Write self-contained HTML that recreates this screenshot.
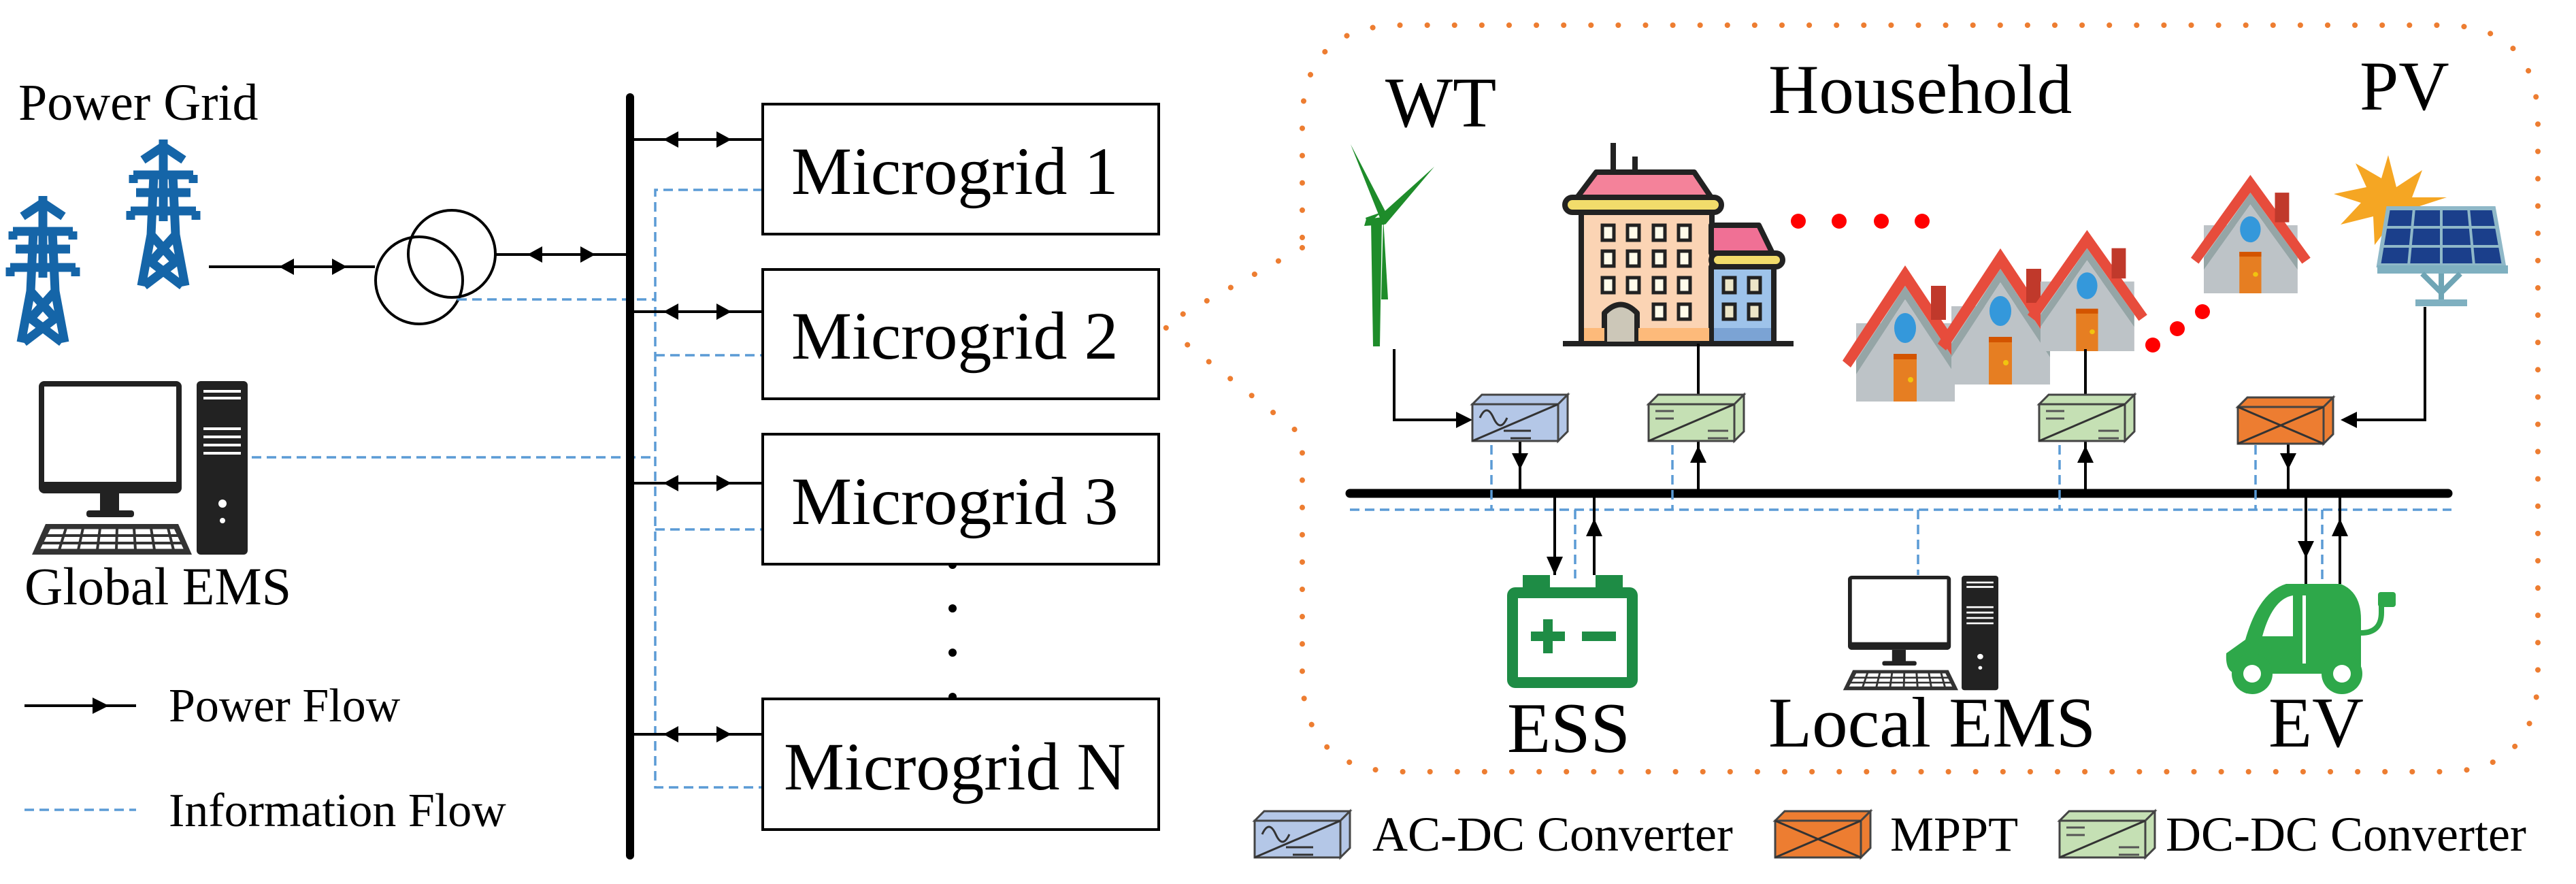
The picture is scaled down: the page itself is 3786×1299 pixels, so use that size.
<!DOCTYPE html>
<html><head><meta charset="utf-8"><style>
html,body{margin:0;padding:0;background:#fff}
svg{display:block}
svg text{font-family:"Liberation Serif","Times New Roman",Times,serif !important;fill:#000}
</style></head><body>
<svg width="3786" height="1299" viewBox="0 0 3786 1299" xmlns="http://www.w3.org/2000/svg" font-family="Liberation Serif, Times New Roman, serif">
<defs>
<g id="tower" fill="none" stroke="#1565A8" stroke-width="13" stroke-linejoin="miter">
  <path d="M-30,0 L0,-20 L30,0 M-44,22 L44,22 M-24,22 L24,22 M-40,48 L40,48 M-48,75 L48,75 M0,-30 L0,90 M-14,22 L-18,110 L-32,185 M14,22 L18,110 L32,185 M-18,110 L18,150 L-28,185 M18,110 L-18,150 L28,185 M-44,22 L-44,34 M44,22 L44,34 M-48,75 L-48,88 M48,75 L48,88"/>
</g>
<g id="pc">
  <rect x="0" y="0" width="210" height="165" rx="8" fill="#222"/>
  <rect x="8" y="8" width="194" height="140" fill="#fff"/>
  <rect x="90" y="165" width="28" height="28" fill="#222"/>
  <rect x="70" y="190" width="70" height="10" rx="4" fill="#222"/>
  <path d="M10,210 L205,210 L225,255 L-10,255 Z" fill="#333"/>
  <path d="M16,216 L200,216 L215,248 L0,248 Z" fill="#fff" stroke="#333" stroke-width="3"/>
  <path d="M40,216 L30,248 M65,216 L58,248 M90,216 L86,248 M115,216 L114,248 M140,216 L142,248 M165,216 L170,248 M190,216 L198,248 M8,227 L206,227 M4,238 L210,238" stroke="#333" stroke-width="4"/>
  <rect x="232" y="0" width="75" height="255" rx="6" fill="#222"/>
  <path d="M242,15 L297,15 M242,25 L297,25 M242,70 L297,70 M242,82 L297,82 M242,94 L297,94 M242,106 L297,106" stroke="#fff" stroke-width="4"/>
  <circle cx="270" cy="180" r="6" fill="#fff"/><circle cx="270" cy="205" r="4" fill="#fff"/>
</g>
<g id="conv">
  <path d="M0,14 L14,0 L140,0 L126,14 Z" stroke="#444" stroke-width="3"/>
  <path d="M126,14 L140,0 L140,54 L126,68 Z" stroke="#444" stroke-width="3"/>
  <rect x="0" y="14" width="126" height="54" stroke="#444" stroke-width="3"/>
  <path d="M0,68 L126,14" stroke="#333" stroke-width="3"/>
</g>
<g id="house">
  <rect x="20" y="85" width="145" height="115" fill="#BDC3C7"/>
  <path d="M92,0 L185,140 L172,150 L92,30 L12,150 L0,140 Z" fill="#E74C3C"/>
  <path d="M92,30 L165,140 L165,160 L92,50 L20,160 L20,140 Z" fill="#95A5A6"/>
  <path d="M92,50 L165,160 L165,200 L20,200 L20,160 Z" fill="#BDC3C7"/>
  <rect x="130" y="30" width="22" height="50" fill="#C0392B"/>
  <ellipse cx="92" cy="92" rx="16" ry="22" fill="#3498DB"/>
  <rect x="75" y="130" width="34" height="70" fill="#E67E22"/>
  <rect x="75" y="130" width="34" height="8" fill="#D35400"/>
  <circle cx="100" cy="168" r="4" fill="#F1C40F"/>
</g>
</defs>

<!-- LEFT SIDE -->
<text x="27" y="176" font-size="76" font-family="Liberation Serif, serif">Power Grid</text>
<use href="#tower" x="63" y="318"/>
<use href="#tower" x="240" y="235"/>

<line x1="307" y1="392" x2="551" y2="392" stroke="#000" stroke-width="4"/>
<polygon points="410,392 432,380 432,404" fill="#000"/>
<polygon points="510,392 488,380 488,404" fill="#000"/>
<circle cx="616" cy="412" r="64" fill="none" stroke="#000" stroke-width="4"/>
<circle cx="664" cy="373" r="64" fill="none" stroke="#000" stroke-width="4"/>
<line x1="728" y1="374" x2="926" y2="374" stroke="#000" stroke-width="4"/>
<polygon points="775,374 797,362 797,386" fill="#000"/>
<polygon points="875,374 853,362 853,386" fill="#000"/>

<g stroke="#5B9BD5" stroke-width="3.5" stroke-dasharray="14,8" fill="none">
  <path d="M1121,279 L963,279 L963,1157 L1121,1157"/>
  <path d="M963,522 L1121,522"/>
  <path d="M963,778 L1121,778"/>
  <path d="M672,440 L963,440"/>
  <path d="M370,672 L963,672"/>
  <path d="M36,1190 L200,1190"/>
</g>

<line x1="926" y1="143" x2="926" y2="1257" stroke="#000" stroke-width="12" stroke-linecap="round"/>

<g stroke="#000" stroke-width="4">
  <line x1="926" y1="205" x2="1121" y2="205"/>
  <line x1="926" y1="458" x2="1121" y2="458"/>
  <line x1="926" y1="710" x2="1121" y2="710"/>
  <line x1="926" y1="1079" x2="1121" y2="1079"/>
  <line x1="36" y1="1037" x2="200" y2="1037"/>
</g>
<g fill="#000">
  <polygon points="975,205 997,193 997,217"/><polygon points="1075,205 1053,193 1053,217"/>
  <polygon points="975,458 997,446 997,470"/><polygon points="1075,458 1053,446 1053,470"/>
  <polygon points="975,710 997,698 997,722"/><polygon points="1075,710 1053,698 1053,722"/>
  <polygon points="975,1079 997,1067 997,1091"/><polygon points="1075,1079 1053,1067 1053,1091"/>
  <polygon points="160,1037 136,1025 136,1049"/>
  <circle cx="1400" cy="830" r="6"/><circle cx="1400" cy="894" r="6"/><circle cx="1400" cy="959" r="6"/><circle cx="1400" cy="1024" r="6"/>
</g>

<g fill="#fff" stroke="#000" stroke-width="4">
  <rect x="1121" y="153" width="582" height="191"/>
  <rect x="1121" y="396" width="582" height="190"/>
  <rect x="1121" y="638" width="582" height="191"/>
  <rect x="1121" y="1027" width="582" height="192"/>
</g>
<g font-size="100" font-family="Liberation Serif, serif">
  <text x="1163" y="285">Microgrid 1</text>
  <text x="1163" y="527">Microgrid 2</text>
  <text x="1163" y="770">Microgrid 3</text>
  <text x="1152" y="1160">Microgrid N</text>
</g>

<use href="#pc" x="57" y="560"/>
<g font-family="Liberation Serif, serif">
<text x="36" y="888" font-size="78">Global EMS</text>
<text x="248" y="1060" font-size="70">Power Flow</text>
<text x="248" y="1214" font-size="70">Information Flow</text>
</g>

<path d="M1914,364 L1709,478 L1914,640 L1914,990 Q1914,1134 2060,1134 L3590,1134 Q3730,1134 3730,990 L3730,180 Q3730,37 3590,37 L2060,37 Q1914,37 1914,180 Z" fill="none" stroke="#ED7D31" stroke-width="8" stroke-linecap="round" stroke-dasharray="0.1,40"/>

<g font-family="Liberation Serif, serif">
<text x="2036" y="186" font-size="105">WT</text>
<text x="2599" y="166" font-size="103">Household</text>
<text x="3468" y="161" font-size="103">PV</text>
</g>

<g fill="#1E8C2A">
  <polygon points="2015,325 2031,325 2028,509 2018,509"/>
  <polygon points="1985,212 2040,318 2030,325"/>
  <polygon points="2008,322 2040,318 2035,330 2005,332"/>
  <polygon points="2030,312 2007,320 2010,330"/>
  <polygon points="2030,315 2108,245 2036,330"/>
  <polygon points="2033,320 2040,440 2030,440"/>
</g>

<g stroke="#222" stroke-width="8" stroke-linejoin="round">
  <line x1="2371" y1="210" x2="2371" y2="272"/>
  <line x1="2403" y1="230" x2="2403" y2="272"/>
  <path d="M2346,253 L2490,253 L2515,290 L2318,290 Z" fill="#F4829A"/>
  <rect x="2300" y="290" width="230" height="22" rx="11" fill="#F2DC6B"/>
  <rect x="2324" y="312" width="192" height="190" fill="#FBD4B4"/>
  <path d="M2515,331 L2585,331 L2605,372 L2515,372 Z" fill="#F07095"/>
  <rect x="2515" y="372" width="105" height="20" rx="10" fill="#F2DC6B"/>
  <rect x="2515" y="392" width="92" height="110" fill="#9EC3EA"/>
  <line x1="2297" y1="505" x2="2636" y2="505"/>
  <path d="M2358,502 L2358,460 Q2382,435 2406,460 L2406,502" fill="#CCC7B8"/>
</g>
<rect x="2328" y="482" width="30" height="19" fill="#FDBA7A"/>
<rect x="2408" y="482" width="104" height="19" fill="#FDBA7A"/>
<rect x="2519" y="482" width="84" height="19" fill="#7BA3D4"/>
<g fill="#FFFCEB" stroke="#222" stroke-width="5">
  <rect x="2355" y="331" width="17" height="22"/><rect x="2392" y="331" width="17" height="22"/><rect x="2430" y="331" width="17" height="22"/><rect x="2467" y="331" width="17" height="22"/>
  <rect x="2355" y="369" width="17" height="22"/><rect x="2392" y="369" width="17" height="22"/><rect x="2430" y="369" width="17" height="22"/><rect x="2467" y="369" width="17" height="22"/>
  <rect x="2355" y="408" width="17" height="22"/><rect x="2392" y="408" width="17" height="22"/><rect x="2430" y="408" width="17" height="22"/><rect x="2467" y="408" width="17" height="22"/>
  <rect x="2430" y="447" width="17" height="22"/><rect x="2467" y="447" width="17" height="22"/>
  <rect x="2533" y="408" width="17" height="22" fill="#EDE6C8"/><rect x="2570" y="408" width="17" height="22" fill="#EDE6C8"/>
  <rect x="2533" y="447" width="17" height="22" fill="#EDE6C8"/><rect x="2570" y="447" width="17" height="22" fill="#EDE6C8"/>
</g>
<g fill="#F00">
  <circle cx="2643" cy="325" r="11"/><circle cx="2703" cy="325" r="11"/><circle cx="2765" cy="325" r="11"/><circle cx="2825" cy="325" r="11"/>
  <circle cx="3164" cy="507" r="11"/><circle cx="3200" cy="483" r="11"/><circle cx="3237" cy="458" r="11"/>
</g>

<use href="#house" x="2708" y="390"/>
<g transform="translate(2848,365)"><use href="#house"/></g>
<g transform="translate(2980,338) scale(0.95,0.89)"><use href="#house"/></g>
<g transform="translate(3220,257) scale(0.95,0.87)"><use href="#house"/></g>

<g fill="#F5A623">
  <polygon points="3510,228 3522,275 3560,250 3545,290 3596,290 3550,305 3570,330 3520,320 3490,360 3488,318 3440,330 3470,298 3430,285 3478,275 3462,240 3500,262"/>
</g>
<g>
  <path d="M3510,306 L3665,306 L3680,390 L3496,390 Z" fill="#1B3F8B" stroke="#8FB8C8" stroke-width="6"/>
  <path d="M3548,306 L3540,390 M3588,306 L3588,390 M3628,306 L3636,390 M3503,334 L3672,334 M3500,362 L3676,362" stroke="#8FB8C8" stroke-width="4"/>
  <rect x="3494" y="390" width="192" height="12" fill="#7FB0C0"/>
  <path d="M3560,402 L3588,430 L3616,402 M3588,402 L3588,440" stroke="#6FA5B5" stroke-width="8" fill="none"/>
  <rect x="3550" y="440" width="76" height="10" fill="#7FB0C0"/>
</g>

<line x1="1984" y1="725" x2="3598" y2="725" stroke="#000" stroke-width="13" stroke-linecap="round"/>
<g stroke="#5B9BD5" stroke-width="3.5" stroke-dasharray="14,8" fill="none">
  <path d="M1984,749 L3603,749"/>
  <path d="M2192,654 L2192,749 M2458,654 L2458,749 M3027,654 L3027,749 M3315,654 L3315,749"/>
  <path d="M2315,749 L2315,850 M2819,749 L2819,845 M3413,749 L3413,858"/>
</g>

<g stroke="#000" stroke-width="4" fill="none">
  <path d="M2049,513 L2049,617 L2150,617"/>
  <path d="M2234,646 L2234,720"/>
  <path d="M2496,646 L2496,720"/>
  <path d="M2496,505 L2496,580"/>
  <path d="M3065,646 L3065,720"/>
  <path d="M3065,513 L3065,580"/>
  <path d="M3564,451 L3564,617 L3450,617"/>
  <path d="M3363,650 L3363,720"/>
  <path d="M2285,730 L2285,845 M2343,730 L2343,845"/>
  <path d="M3389,730 L3389,858 M3439,730 L3439,858"/>
</g>
<g fill="#000">
  <polygon points="2164,617 2140,605 2140,629"/>
  <polygon points="2234,690 2222,666 2246,666"/>
  <polygon points="2496,655 2484,680 2508,680"/>
  <polygon points="2496,583 2484,608 2508,608"/>
  <polygon points="3065,655 3053,680 3077,680"/>
  <polygon points="3065,583 3053,608 3077,608"/>
  <polygon points="3440,617 3464,605 3464,629"/>
  <polygon points="3363,690 3351,666 3375,666"/>
  <polygon points="2285,845 2273,818 2297,818"/>
  <polygon points="2343,762 2331,788 2355,788"/>
  <polygon points="3389,820 3377,795 3401,795"/>
  <polygon points="3439,762 3427,788 3451,788"/>
</g>

<use href="#conv" x="2164" y="580" fill="#B4C7E7"/>
<path d="M2175,614 q10,-22 20,0 t20,0 M2210,633 L2250,633 M2220,644 L2250,644" stroke="#333" stroke-width="3" fill="none"/>
<use href="#conv" x="2423" y="580" fill="#C5E0B4"/>
<path d="M2433,604 L2460,604 M2433,615 L2460,615 M2510,633 L2540,633 M2510,644 L2540,644" stroke="#555" stroke-width="3"/>
<use href="#conv" x="2997" y="580" fill="#C5E0B4"/>
<path d="M3007,604 L3034,604 M3007,615 L3034,615 M3084,633 L3114,633 M3084,644 L3114,644" stroke="#555" stroke-width="3"/>
<use href="#conv" x="3289" y="584" fill="#ED7D31"/>
<path d="M3289,598 L3415,652" stroke="#333" stroke-width="3"/>

<g fill="#1E8C45">
  <rect x="2238" y="845" width="40" height="20"/><rect x="2345" y="845" width="40" height="20"/>
  <rect x="2215" y="863" width="192" height="148" rx="12"/>
  <rect x="2231" y="879" width="160" height="116" fill="#fff"/>
  <rect x="2250" y="928" width="50" height="14"/><rect x="2268" y="910" width="14" height="50"/>
  <rect x="2325" y="928" width="50" height="14"/>
</g>

<g transform="translate(2716,846) scale(0.72,0.66)"><use href="#pc"/></g>

<g fill="#2EA84A">
  <path d="M3300,940 Q3320,870 3360,858 L3440,858 Q3470,870 3470,910 L3470,990 L3290,990 Q3270,990 3272,960 Z"/>
  <circle cx="3310" cy="990" r="30"/><circle cx="3442" cy="990" r="30"/>
  <path d="M3470,930 Q3500,930 3500,900 L3500,890" stroke="#2EA84A" stroke-width="8" fill="none"/>
  <rect x="3495" y="870" width="26" height="22" rx="4"/>
</g>
<g fill="#fff">
  <circle cx="3310" cy="990" r="13"/><circle cx="3442" cy="990" r="13"/>
  <path d="M3325,935 Q3340,880 3370,875 L3370,935 Z"/>
  <rect x="3384" y="875" width="5" height="100"/>
</g>

<g font-size="105" font-family="Liberation Serif, serif">
  <text x="2215" y="1105">ESS</text>
  <text x="2599" y="1097">Local EMS</text>
  <text x="3334" y="1097">EV</text>
</g>

<use href="#conv" x="1844" y="1192" fill="#B4C7E7"/>
<path d="M1855,1226 q10,-22 20,0 t20,0 M1890,1245 L1930,1245 M1900,1256 L1930,1256" stroke="#333" stroke-width="3" fill="none"/>
<use href="#conv" x="2609" y="1192" fill="#ED7D31"/>
<path d="M2609,1206 L2735,1260" stroke="#333" stroke-width="3"/>
<use href="#conv" x="3027" y="1192" fill="#C5E0B4"/>
<path d="M3037,1216 L3064,1216 M3037,1227 L3064,1227 M3114,1245 L3144,1245 M3114,1256 L3144,1256" stroke="#555" stroke-width="3"/>
<g font-size="72" font-family="Liberation Serif, serif">
<text x="2017" y="1250">AC-DC Converter</text>
<text x="2778" y="1250">MPPT</text>
<text x="3183" y="1250">DC-DC Converter</text>
</g>
</svg>
</body></html>
